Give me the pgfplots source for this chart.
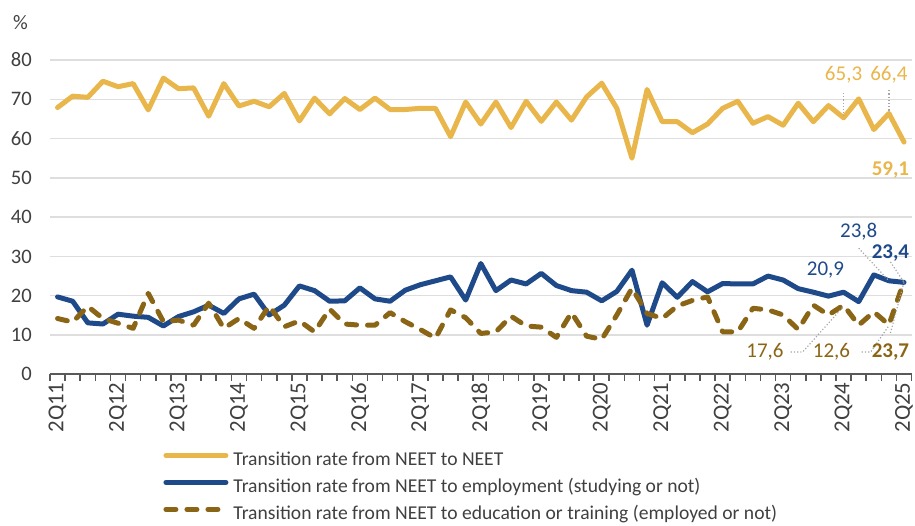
\documentclass[border=0pt]{standalone}
\usepackage{pgfplots}
\pgfplotsset{compat=1.18}
\usepackage{pgfplotstable}
\usepackage{fontspec}
\setmainfont{Carlito}

\definecolor{cneet}{HTML}{E9B64C}
\definecolor{cemp}{HTML}{1F4A8A}
\definecolor{cedu}{HTML}{8B6516}
\definecolor{ctext}{HTML}{404040}
\definecolor{cgrid}{HTML}{DEDEDE}
\definecolor{caxis}{HTML}{595959}
\definecolor{clead}{HTML}{A6A6A6}

% quarter index (0 = 2Q11 ... 56 = 2Q25), rates in %
\pgfplotstableread{
k  neet  emp   edu
0  67.9  19.7  14.2
1  70.8  18.6  13.3
2  70.5  13.1  17.3
3  74.6  12.8  14.2
4  73.2  15.3  13.0
5  74.0  14.8  11.7
6  67.3  14.5  20.6
7  75.4  12.3  13.4
8  72.7  14.7  13.8
9  72.9  15.9  12.5
10 65.7  17.6  18.1
11 74.0  15.5  11.7
12 68.3  19.2  14.2
13 69.5  20.4  11.7
14 68.1  15.1  17.4
15 71.5  17.6  12.1
16 64.5  22.5  13.6
17 70.3  21.3  10.8
18 66.3  18.6  16.6
19 70.2  18.7  12.8
20 67.4  22.0  12.5
21 70.3  19.2  12.5
22 67.4  18.6  15.7
23 67.4  21.4  13.4
24 67.7  22.8  11.4
25 67.7  23.8  9.2
26 60.5  24.8  16.4
27 69.3  18.9  14.4
28 63.7  28.2  10.4
29 69.3  21.3  10.8
30 62.8  24.0  14.8
31 69.5  23.0  12.3
32 64.4  25.7  12.0
33 69.3  22.6  9.4
34 64.7  21.3  15.7
35 70.6  20.9  9.7
36 74.1  18.7  8.9
37 67.7  21.1  15.1
38 55.0  26.5  21.9
39 72.5  12.5  15.5
40 64.3  23.3  14.2
41 64.3  19.6  17.4
42 61.5  23.6  18.8
43 63.7  21.0  19.7
44 67.7  23.1  10.8
45 69.5  23.0  10.8
46 63.9  23.0  16.8
47 65.6  25.0  16.4
48 63.4  24.0  15.1
49 69.0  21.8  11.4
50 64.3  20.9  17.6
51 68.4  19.9  15.1
52 65.3  20.9  17.6
53 70.1  18.5  12.5
54 62.3  25.3  15.9
55 66.4  23.8  12.6
56 59.1  23.4  23.7
}\rates

\begin{document}
\begin{tikzpicture}
\begin{axis}[
  at={(25pt,75.35pt)}, anchor=south west,
  scale only axis, width=430.8pt, height=157.15pt,
  xmin=-0.5, xmax=56.5, ymin=0, ymax=80,
  clip=false,
  axis x line*=bottom, axis y line*=left,
  x axis line style={caxis, line width=0.85pt, -},
  y axis line style={draw=none},
  xtick={0,4,...,56},
  xticklabels={2Q11,2Q12,2Q13,2Q14,2Q15,2Q16,2Q17,2Q18,2Q19,2Q20,2Q21,2Q22,2Q23,2Q24,2Q25},
  minor xtick={-0.5,0.5,...,56.5},
  major tick length=0pt, minor tick length=3.3pt, tick align=outside,
  minor tick style={caxis, line width=0.8pt},
  ytick style={draw=none},
  xticklabel style={rotate=90, anchor=east, inner sep=0pt, xshift=-3.9pt,
    font=\fontsize{11.4}{13}\selectfont, text=ctext},
  ytick={0,10,...,80},
  ymajorgrids, grid style={cgrid, line width=0.75pt},
  yticklabel style={anchor=east, inner sep=0pt, xshift=-8.9pt,
    font=\fontsize{10.3}{12}\selectfont, text=ctext},
  /pgf/number format/assume math mode=true,
  legend style={draw=none, fill=none, at={(axis description cs:0.1312,-0.244)},
    anchor=north west, inner sep=0pt, row sep=4.5pt,
    font=\fontsize{9.8}{12}\selectfont, text=ctext,
    nodes={inner sep=0pt, text height=7pt, text depth=2pt}},
  legend cell align=left,
  legend image code/.code={\draw[#1] (0pt,2.5pt) -- (30pt,2.5pt);},
]
\addplot[cneet, line width=2.5pt, line join=round, line cap=round] table[x=k, y=neet] {\rates};
\addlegendentry{\hspace{2.5pt}Transition rate from NEET to NEET}
\addplot[cemp, line width=2.5pt, line join=round, line cap=round] table[x=k, y=emp] {\rates};
\addlegendentry{\hspace{2.5pt}Transition rate from NEET to employment (studying or not)}
\addplot[cedu, line width=2.5pt, line join=round, line cap=round, dash pattern=on 5pt off 5.5pt] table[x=k, y=edu] {\rates};
\addlegendentry{\hspace{2.5pt}Transition rate from NEET to education or training (employed or not)}

% leader lines
\draw[clead, densely dotted, line width=0.6pt] (axis cs:52,71.6) -- (axis cs:52,65.8);
\draw[clead, densely dotted, line width=0.6pt] (axis cs:55,72.3) -- (axis cs:55,67.0);
\draw[clead, densely dotted, line width=0.6pt] (axis cs:53,32.1) -- (axis cs:55,23.8);
\draw[clead, densely dotted, line width=0.6pt] (axis cs:55.1,28.6) -- (axis cs:56,23.4);
\draw[clead, densely dotted, line width=0.6pt] (axis cs:48.5,5.7) -- (axis cs:49.3,5.7) -- (axis cs:52,17.3);
\draw[clead, densely dotted, line width=0.6pt] (axis cs:53.2,5.7) -- (axis cs:53.8,5.7) -- (axis cs:55,12.4);
\draw[clead, densely dotted, line width=0.6pt] (axis cs:55.1,10.5) -- (axis cs:56,23.5);

% data labels
\begin{scope}[every node/.style={font=\fontsize{10.5}{12}\selectfont, inner sep=0pt}]
\node[text=cneet] at (axis cs:52.0,76.2) {65,3};
\node[text=cneet] at (axis cs:55.0,76.2) {66,4};
\node[text=cneet, font=\fontsize{10.5}{12}\selectfont\bfseries] at (axis cs:55.1,52.0) {59,1};
\node[text=cemp] at (axis cs:53.0,36.2) {23,8};
\node[text=cemp, font=\fontsize{10.5}{12}\selectfont\bfseries] at (axis cs:55.1,30.9) {23,4};
\node[text=cemp] at (axis cs:50.8,26.5) {20,9};
\node[text=cedu] at (axis cs:46.8,5.7) {17,6};
\node[text=cedu] at (axis cs:51.2,5.7) {12,6};
\node[text=cedu, font=\fontsize{10.5}{12}\selectfont\bfseries] at (axis cs:55.1,5.7) {23,7};
\end{scope}
\end{axis}
\node[text=ctext, font=\fontsize{10.3}{12}\selectfont] at (10.25pt,251.25pt) {\%};
\pgfresetboundingbox
\path (0,0) rectangle (457.5pt,262.5pt);
\end{tikzpicture}
\end{document}
